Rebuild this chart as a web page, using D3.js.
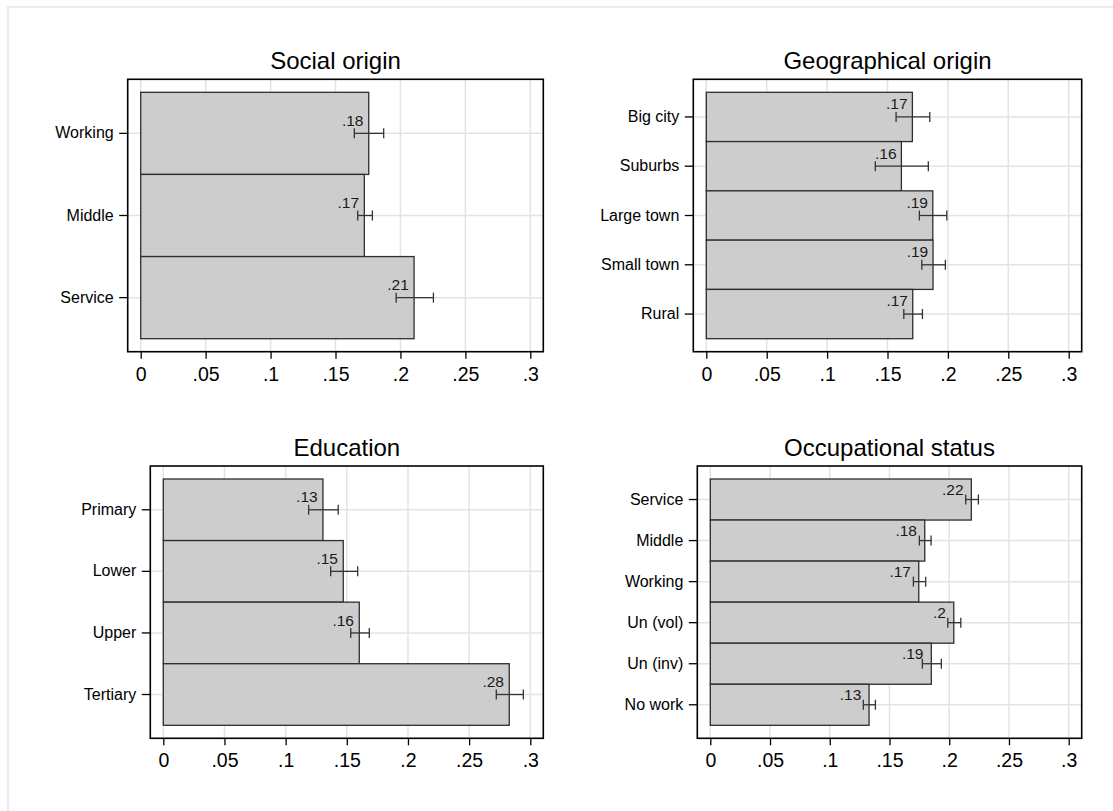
<!DOCTYPE html>
<html>
<head>
<meta charset="utf-8">
<script src="https://cdn.jsdelivr.net/npm/d3@7"></script>
<style>
  html, body { margin: 0; padding: 0; background: #ffffff; }
  svg { display: block; font-family: "Liberation Sans", Arial, sans-serif; }
</style>
</head>
<body>
<svg id="chart" width="1113" height="811"></svg>
<script>
// Shared x-axis ticks
const xTicks = [0, 0.05, 0.1, 0.15, 0.2, 0.25, 0.3];

// Social origin
const socialCats = ["Working", "Middle", "Service"];
const socialVals = [0.1756, 0.1722, 0.2105];
const socialLo   = [0.1645, 0.1671, 0.1967];
const socialHi   = [0.1871, 0.1784, 0.2254];
const socialLabels = [".18", ".17", ".21"];

// Geographical origin
const geoCats = ["Big city", "Suburbs", "Large town", "Small town", "Rural"];
const geoVals = [0.1706, 0.1615, 0.1875, 0.1877, 0.1709];
const geoLo   = [0.1571, 0.1399, 0.1764, 0.1784, 0.1635];
const geoHi   = [0.1850, 0.1838, 0.1991, 0.1979, 0.1789];
const geoLabels = [".17", ".16", ".19", ".19", ".17"];

// Education
const eduCats = ["Primary", "Lower", "Upper", "Tertiary"];
const eduVals = [0.1305, 0.1471, 0.1602, 0.2828];
const eduLo   = [0.1188, 0.1368, 0.1532, 0.2722];
const eduHi   = [0.1430, 0.1589, 0.1684, 0.2943];
const eduLabels = [".13", ".15", ".16", ".28"];

// Occupational status
const occCats = ["Service", "Middle", "Working", "Un (vol)", "Un (inv)", "No work"];
const occVals = [0.2185, 0.1795, 0.1745, 0.2038, 0.1850, 0.1329];
const occLo   = [0.2138, 0.1750, 0.1700, 0.1988, 0.1775, 0.1281];
const occHi   = [0.2244, 0.1848, 0.1803, 0.2097, 0.1934, 0.1382];
const occLabels = [".22", ".18", ".17", ".2", ".19", ".13"];

const fmtTick = d => d === 0 ? "0" : String(d).replace(/^0/, "");

const panels = [
  { title: "Social origin", cats: socialCats, vals: socialVals, lo: socialLo, hi: socialHi, labels: socialLabels,
    frame: { left: 127.7, right: 543.3, top: 79.3, bottom: 351.7 }, lblDx: 5.3, lblDy: 7.4 },
  { title: "Geographical origin", cats: geoCats, vals: geoVals, lo: geoLo, hi: geoHi, labels: geoLabels,
    frame: { left: 693.3, right: 1081.7, top: 79.3, bottom: 351.7 }, lblDx: 4.8, lblDy: 7.6 },
  { title: "Education", cats: eduCats, vals: eduVals, lo: eduLo, hi: eduHi, labels: eduLabels,
    frame: { left: 150.3, right: 543.3, top: 466, bottom: 738.3 }, lblDx: 5.3, lblDy: 7.3 },
  { title: "Occupational status", cats: occCats, vals: occVals, lo: occLo, hi: occHi, labels: occLabels,
    frame: { left: 697.3, right: 1081.7, top: 466, bottom: 738.3 }, lblDx: 7.8, lblDy: 4.4 }
];

const svg = d3.select("#chart");

// Outer figure border
svg.append("rect")
  .attr("x", 8).attr("y", 7)
  .attr("width", 1120).attr("height", 820)
  .attr("fill", "#ffffff")
  .attr("stroke", "#e8eef0")
  .attr("stroke-width", 2);

const pad = 13;

panels.forEach(p => {
  const f = p.frame;
  const g = svg.append("g");

  const x = d3.scaleLinear().domain([0, 0.3]).range([f.left + pad, f.right - pad]);
  const y = d3.scaleBand().domain(p.cats).range([f.top + pad, f.bottom - pad]).padding(0);
  const yc = c => y(c) + y.bandwidth() / 2;

  // Gridlines
  g.append("g").selectAll("line.vg").data(xTicks).join("line")
    .attr("x1", d => x(d)).attr("x2", d => x(d))
    .attr("y1", f.top).attr("y2", f.bottom)
    .attr("stroke", "#e3e3e3").attr("stroke-width", 1.5);
  g.append("g").selectAll("line.hg").data(p.cats).join("line")
    .attr("x1", f.left).attr("x2", f.right)
    .attr("y1", d => yc(d)).attr("y2", d => yc(d))
    .attr("stroke", "#e3e3e3").attr("stroke-width", 1.5);

  // Bars
  g.append("g").selectAll("rect").data(p.cats).join("rect")
    .attr("x", x(0))
    .attr("y", d => y(d))
    .attr("width", (d, i) => x(p.vals[i]) - x(0))
    .attr("height", y.bandwidth())
    .attr("fill", "#cdcdcd")
    .attr("stroke", "#2e2e2e")
    .attr("stroke-width", 1.3);

  // Confidence intervals
  const eb = g.append("g").attr("stroke", "#333333").attr("stroke-width", 1.3);
  p.cats.forEach((c, i) => {
    const cy = yc(c);
    eb.append("line").attr("x1", x(p.lo[i])).attr("x2", x(p.hi[i])).attr("y1", cy).attr("y2", cy);
    eb.append("line").attr("x1", x(p.lo[i])).attr("x2", x(p.lo[i])).attr("y1", cy - 5).attr("y2", cy + 5);
    eb.append("line").attr("x1", x(p.hi[i])).attr("x2", x(p.hi[i])).attr("y1", cy - 5).attr("y2", cy + 5);
  });

  // Bar value labels
  g.append("g").selectAll("text").data(p.cats).join("text")
    .attr("x", (d, i) => x(p.vals[i]) - p.lblDx)
    .attr("y", d => yc(d) - p.lblDy)
    .attr("text-anchor", "end")
    .attr("font-size", "15.5px")
    .attr("fill", "#1a1a1a")
    .text((d, i) => p.labels[i]);

  // Plot frame
  g.append("rect")
    .attr("x", f.left).attr("y", f.top)
    .attr("width", f.right - f.left).attr("height", f.bottom - f.top)
    .attr("fill", "none").attr("stroke", "#000000").attr("stroke-width", 1.6);

  // X axis
  const xAxis = d3.axisBottom(x).tickValues(xTicks).tickFormat(fmtTick).tickSize(7).tickPadding(8);
  const xa = g.append("g").attr("transform", `translate(0,${f.bottom})`).call(xAxis);
  xa.select(".domain").remove();
  xa.selectAll(".tick line").attr("stroke", "#000").attr("stroke-width", 1.3);
  xa.selectAll(".tick text").attr("font-size", "19.5px").attr("fill", "#000")
    .attr("font-family", "Liberation Sans, Arial, sans-serif");

  // Y axis
  const yAxis = d3.axisLeft(y).tickSize(8.5).tickPadding(5.5);
  const ya = g.append("g").attr("transform", `translate(${f.left},0)`).call(yAxis);
  ya.select(".domain").remove();
  ya.selectAll(".tick line").attr("stroke", "#000").attr("stroke-width", 1.3);
  ya.selectAll(".tick text").attr("font-size", "16px").attr("fill", "#000")
    .attr("font-family", "Liberation Sans, Arial, sans-serif");

  // Title
  g.append("text")
    .attr("x", (f.left + f.right) / 2)
    .attr("y", f.top - 10)
    .attr("text-anchor", "middle")
    .attr("font-size", "24px")
    .attr("fill", "#000")
    .text(p.title);
});
</script>
</body>
</html>
